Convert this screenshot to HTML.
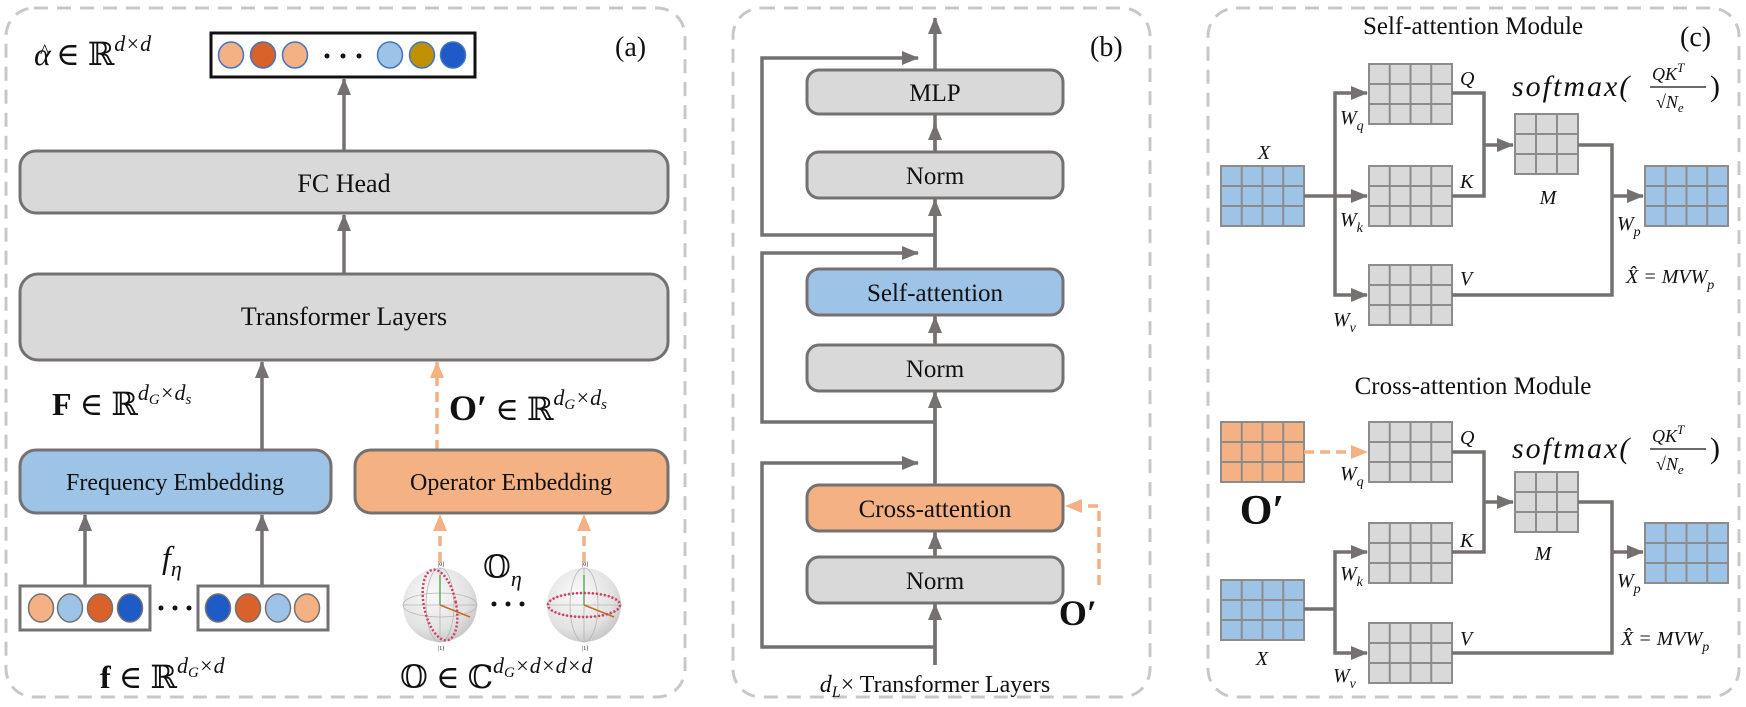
<!DOCTYPE html>
<html><head><meta charset="utf-8"><style>
html,body{margin:0;padding:0;background:#fff}
svg{display:block}
text{font-family:"Liberation Serif","DejaVu Serif",serif;fill:#111}
.it{font-style:italic}
.bx{fill:#d9d9d9;stroke:#767171;stroke-width:3}
.ln{stroke:#767171;stroke-width:3.5;fill:none}
.dash{stroke:#c8c8c8;stroke-width:3;fill:none;stroke-dasharray:14 9}
.od{stroke:#f4b183;stroke-width:3.5;fill:none;stroke-dasharray:10 6}
</style></head><body>
<svg width="1746" height="707" viewBox="0 0 1746 707" xmlns="http://www.w3.org/2000/svg">
<defs>
<marker id="ah" markerUnits="userSpaceOnUse" markerWidth="18" markerHeight="16" refX="16" refY="8" orient="auto"><path d="M0,1 L17,8 L0,15 z" fill="#767171"/></marker>
<marker id="ao" markerUnits="userSpaceOnUse" markerWidth="18" markerHeight="16" refX="16" refY="8" orient="auto"><path d="M0,1 L17,8 L0,15 z" fill="#f4b183"/></marker>
<g id="g4"><rect x="0" y="0" width="83" height="60" stroke="#8c8c8c" stroke-width="2"/><path d="M20.75 0V60M41.5 0V60M62.25 0V60M0 20H83M0 40H83" stroke="#8c8c8c" stroke-width="2"/></g>
<g id="g3"><rect x="0" y="0" width="63" height="60" stroke="#8c8c8c" stroke-width="2"/><path d="M21 0V60M42 0V60M0 20H63M0 40H63" stroke="#8c8c8c" stroke-width="2"/></g>
<radialGradient id="sph" cx="0.4" cy="0.35" r="0.7"><stop offset="0" stop-color="#fafafa"/><stop offset="0.7" stop-color="#e2e2e2"/><stop offset="1" stop-color="#c4c4c4"/></radialGradient>
<g id="sphere"><ellipse cx="0" cy="0" rx="37" ry="37" fill="url(#sph)"/>
<path d="M-37 0H37M0 -37V37M-37 0A37 12 0 0 0 37 0M-37 0A37 12 0 0 1 37 0M0 -37A14 37 0 0 0 0 37M0 -37A14 37 0 0 1 0 37" stroke="#b5b5b5" stroke-width="0.8" fill="none"/>
<line x1="0" y1="0" x2="0" y2="-30" stroke="#3a9a3a" stroke-width="1.2"/>
<line x1="0" y1="0" x2="30" y2="12" stroke="#c07020" stroke-width="1.5"/>
<text x="-2" y="-39" font-size="6" fill="#666">|0⟩</text><text x="-2" y="45" font-size="6" fill="#666">|1⟩</text></g>
</defs>

<!-- Panel (a) -->
<rect class="dash" x="6" y="8" width="679" height="689" rx="28"/>
<text x="615" y="56" font-size="28">(a)</text>
<text x="34" y="65" font-size="32" class="it">α</text>
<text x="40" y="58" font-size="20">^</text>
<text x="56" y="65" font-size="32"> ∈ ℝ<tspan class="it" font-size="22" dy="-14">d×d</tspan></text>
<rect x="211" y="33" width="264" height="44" fill="#fff" stroke="#111" stroke-width="3"/>
<g stroke="#4472c4" stroke-width="1.5">
<ellipse cx="231" cy="55" rx="12.5" ry="13" fill="#f4b183"/>
<ellipse cx="263" cy="55" rx="12.5" ry="13" fill="#d9622b"/>
<ellipse cx="295" cy="55" rx="12.5" ry="13" fill="#f4b183"/>
<ellipse cx="390" cy="55" rx="12.5" ry="13" fill="#9dc3e6"/>
<ellipse cx="422" cy="55" rx="12.5" ry="13" fill="#bf9000"/>
<ellipse cx="453" cy="55" rx="12.5" ry="13" fill="#1f5bc6"/>
</g>
<g fill="#111"><circle cx="327" cy="56" r="2.5"/><circle cx="343" cy="56" r="2.5"/><circle cx="359" cy="56" r="2.5"/></g>
<line class="ln" x1="344" y1="151" x2="344" y2="79" marker-end="url(#ah)"/>
<rect class="bx" x="20" y="151" width="648" height="62" rx="16"/>
<text x="344" y="192" font-size="26" text-anchor="middle">FC Head</text>
<line class="ln" x1="344" y1="274" x2="344" y2="215" marker-end="url(#ah)"/>
<rect class="bx" x="20" y="274" width="648" height="86" rx="18"/>
<text x="344" y="325" font-size="26" text-anchor="middle">Transformer Layers</text>
<line class="ln" x1="262" y1="450" x2="262" y2="362" marker-end="url(#ah)"/>
<line class="od" x1="437" y1="450" x2="437" y2="362" marker-end="url(#ao)"/>
<text x="52" y="415" font-size="32" font-weight="bold">F<tspan font-weight="normal"> ∈ ℝ</tspan><tspan font-weight="normal" class="it" font-size="22" dy="-15">d<tspan font-size="15" dy="4">G</tspan><tspan dy="-4">×d</tspan><tspan font-size="15" dy="4">s</tspan></tspan></text>
<text x="449" y="420" font-size="36" font-weight="bold">O′<tspan font-weight="normal" font-size="32"> ∈ ℝ</tspan><tspan font-weight="normal" class="it" font-size="22" dy="-15">d<tspan font-size="15" dy="4">G</tspan><tspan dy="-4">×d</tspan><tspan font-size="15" dy="4">s</tspan></tspan></text>
<rect x="20" y="450" width="311" height="63" rx="16" fill="#9dc3e6" stroke="#767171" stroke-width="3"/>
<text x="175" y="490" font-size="24" text-anchor="middle">Frequency Embedding</text>
<rect x="355" y="450" width="313" height="63" rx="16" fill="#f4b183" stroke="#767171" stroke-width="3"/>
<text x="511" y="490" font-size="24" text-anchor="middle">Operator Embedding</text>
<line class="ln" x1="85" y1="586" x2="85" y2="515" marker-end="url(#ah)"/>
<line class="ln" x1="262" y1="586" x2="262" y2="515" marker-end="url(#ah)"/>
<text x="162" y="568" font-size="32" class="it">f<tspan font-size="22" dy="8">η</tspan></text>
<rect x="20" y="586" width="130" height="44" fill="#fff" stroke="#767171" stroke-width="3"/>
<rect x="198" y="586" width="130" height="44" fill="#fff" stroke="#767171" stroke-width="3"/>
<g stroke="#767171" stroke-width="1.5">
<ellipse cx="41" cy="608" rx="12.5" ry="14" fill="#f4b183"/><ellipse cx="70" cy="608" rx="12.5" ry="14" fill="#9dc3e6"/><ellipse cx="100" cy="608" rx="12.5" ry="14" fill="#d9622b"/><ellipse cx="130" cy="608" rx="12.5" ry="14" fill="#1f5bc6"/>
<ellipse cx="218" cy="608" rx="12.5" ry="14" fill="#1f5bc6"/><ellipse cx="248" cy="608" rx="12.5" ry="14" fill="#d9622b"/><ellipse cx="278" cy="608" rx="12.5" ry="14" fill="#9dc3e6"/><ellipse cx="307" cy="608" rx="12.5" ry="14" fill="#f4b183"/>
</g>
<g fill="#111"><circle cx="161" cy="608" r="2.5"/><circle cx="175" cy="608" r="2.5"/><circle cx="189" cy="608" r="2.5"/></g>
<line class="od" x1="440" y1="562" x2="440" y2="515" marker-end="url(#ao)"/>
<line class="od" x1="584" y1="562" x2="584" y2="515" marker-end="url(#ao)"/>
<use href="#sphere" x="440" y="605"/>
<ellipse cx="440" cy="605" rx="16" ry="36" fill="none" stroke="#d04060" stroke-width="2.5" stroke-dasharray="2 2" transform="rotate(-12 440 605)"/>
<use href="#sphere" x="584" y="605"/>
<ellipse cx="584" cy="605" rx="36" ry="12" fill="none" stroke="#d04060" stroke-width="2.5" stroke-dasharray="2 2"/>
<text x="483" y="578" font-size="32">𝕆<tspan class="it" font-size="22" dy="8">η</tspan></text>
<g fill="#111"><circle cx="494" cy="604" r="2.5"/><circle cx="508" cy="604" r="2.5"/><circle cx="522" cy="604" r="2.5"/></g>
<text x="100" y="688" font-size="32" font-weight="bold">f<tspan font-weight="normal"> ∈ ℝ</tspan><tspan class="it" font-weight="normal" font-size="22" dy="-15">d<tspan font-size="15" dy="4">G</tspan><tspan dy="-4">×d</tspan></tspan></text>
<text x="400" y="688" font-size="32">𝕆 ∈ ℂ<tspan class="it" font-size="22" dy="-15">d<tspan font-size="15" dy="4">G</tspan><tspan dy="-4">×d×d×d</tspan></tspan></text>

<!-- Panel (b) -->
<rect class="dash" x="733" y="8" width="417" height="689" rx="28"/>
<text x="1090" y="56" font-size="28">(b)</text>
<line class="ln" x1="935" y1="665" x2="935" y2="18" marker-end="url(#ah)"/>
<path class="ln" d="M935 235H762V58H918" marker-end="url(#ah)"/>
<path class="ln" d="M935 422H762V253H918" marker-end="url(#ah)"/>
<path class="ln" d="M935 647H762V463H918" marker-end="url(#ah)"/>
<line class="ln" x1="935" y1="150" x2="935" y2="124" marker-end="url(#ah)"/>
<line class="ln" x1="935" y1="267" x2="935" y2="200" marker-end="url(#ah)"/>
<line class="ln" x1="935" y1="343" x2="935" y2="317" marker-end="url(#ah)"/>
<line class="ln" x1="935" y1="483" x2="935" y2="392" marker-end="url(#ah)"/>
<line class="ln" x1="935" y1="555" x2="935" y2="533" marker-end="url(#ah)"/>
<line class="ln" x1="935" y1="665" x2="935" y2="604" marker-end="url(#ah)"/>
<rect class="bx" x="807" y="70" width="256" height="44" rx="12"/>
<text x="935" y="101" font-size="25" text-anchor="middle">MLP</text>
<rect class="bx" x="807" y="152" width="256" height="46" rx="12"/>
<text x="935" y="184" font-size="25" text-anchor="middle">Norm</text>
<rect x="807" y="269" width="256" height="46" rx="12" fill="#9dc3e6" stroke="#767171" stroke-width="3"/>
<text x="935" y="301" font-size="25" text-anchor="middle">Self-attention</text>
<rect class="bx" x="807" y="345" width="256" height="46" rx="12"/>
<text x="935" y="377" font-size="25" text-anchor="middle">Norm</text>
<rect x="807" y="485" width="256" height="46" rx="12" fill="#f4b183" stroke="#767171" stroke-width="3"/>
<text x="935" y="517" font-size="25" text-anchor="middle">Cross-attention</text>
<rect class="bx" x="807" y="557" width="256" height="46" rx="12"/>
<text x="935" y="589" font-size="25" text-anchor="middle">Norm</text>
<path class="od" d="M1099 585V506H1066" marker-end="url(#ao)"/>
<text x="1078" y="625" font-size="36" font-weight="bold" text-anchor="middle">O′</text>
<text x="935" y="692" font-size="24" text-anchor="middle"><tspan class="it">d<tspan font-size="16" dy="5">L</tspan></tspan><tspan dy="-5">×  Transformer Layers</tspan></text>

<!-- Panel (c) -->
<rect class="dash" x="1208" y="8" width="531" height="689" rx="28"/>
<text x="1473" y="34" font-size="25" text-anchor="middle">Self-attention Module</text>
<text x="1680" y="46" font-size="28">(c)</text>
<use href="#g4" x="1221" y="166" fill="#9dc3e6"/>
<use href="#g4" x="1369" y="64" fill="#d9d9d9"/>
<use href="#g4" x="1369" y="166" fill="#d9d9d9"/>
<use href="#g4" x="1369" y="265" fill="#d9d9d9"/>
<use href="#g3" x="1515" y="114" fill="#d9d9d9"/>
<use href="#g4" x="1645" y="166" fill="#9dc3e6"/>
<path class="ln" d="M1304 196H1335"/>
<path class="ln" d="M1335 196V93H1367" marker-end="url(#ah)"/>
<path class="ln" d="M1335 196H1367" marker-end="url(#ah)"/>
<path class="ln" d="M1335 196V295H1367" marker-end="url(#ah)"/>
<path class="ln" d="M1452 93H1484V196H1452"/>
<path class="ln" d="M1484 145H1513" marker-end="url(#ah)"/>
<path class="ln" d="M1578 145H1612V295H1452"/>
<path class="ln" d="M1612 196H1643" marker-end="url(#ah)"/>
<g class="it" font-size="20">
<text x="1264" y="159" text-anchor="middle">X</text>
<text x="1460" y="85">Q</text><text x="1460" y="188">K</text><text x="1460" y="285">V</text>
<text x="1340" y="124">W<tspan font-size="14" dy="6">q</tspan></text>
<text x="1340" y="226">W<tspan font-size="14" dy="6">k</tspan></text>
<text x="1333" y="326">W<tspan font-size="14" dy="6">v</tspan></text>
<text x="1548" y="204" text-anchor="middle">M</text>
<text x="1617" y="230">W<tspan font-size="14" dy="6">p</tspan></text>
<text x="1626" y="283">X̂ = MVW<tspan font-size="14" dy="6">p</tspan></text>
</g>
<text x="1512" y="96" font-size="30" class="it" letter-spacing="2">softmax(</text>
<text x="1652" y="80" font-size="18" class="it">QK<tspan font-size="13" dy="-8">T</tspan></text>
<line x1="1650" y1="87" x2="1706" y2="87" stroke="#111" stroke-width="1.3"/>
<text x="1656" y="108" font-size="18" class="it">√N<tspan font-size="13" dy="4">e</tspan></text>
<text x="1710" y="96" font-size="30">)</text>

<text x="1473" y="394" font-size="25" text-anchor="middle">Cross-attention Module</text>
<use href="#g4" x="1221" y="422" fill="#f4b183"/>
<text x="1262" y="524" font-size="42" font-weight="bold" text-anchor="middle">O′</text>
<use href="#g4" x="1369" y="422" fill="#d9d9d9"/>
<use href="#g4" x="1369" y="523" fill="#d9d9d9"/>
<use href="#g4" x="1369" y="623" fill="#d9d9d9"/>
<use href="#g3" x="1515" y="472" fill="#d9d9d9"/>
<use href="#g4" x="1645" y="523" fill="#9dc3e6"/>
<use href="#g4" x="1221" y="580" fill="#9dc3e6"/>
<line class="od" x1="1304" y1="452" x2="1367" y2="452" marker-end="url(#ao)"/>
<path class="ln" d="M1304 609H1335"/>
<path class="ln" d="M1335 609V552H1367" marker-end="url(#ah)"/>
<path class="ln" d="M1335 609V653H1367" marker-end="url(#ah)"/>
<path class="ln" d="M1452 452H1484V552H1452"/>
<path class="ln" d="M1484 502H1513" marker-end="url(#ah)"/>
<path class="ln" d="M1578 502H1612V653H1452"/>
<path class="ln" d="M1612 552H1643" marker-end="url(#ah)"/>
<g class="it" font-size="20">
<text x="1262" y="665" text-anchor="middle">X</text>
<text x="1460" y="444">Q</text><text x="1460" y="547">K</text><text x="1460" y="645">V</text>
<text x="1340" y="480">W<tspan font-size="14" dy="6">q</tspan></text>
<text x="1340" y="580">W<tspan font-size="14" dy="6">k</tspan></text>
<text x="1333" y="682">W<tspan font-size="14" dy="6">v</tspan></text>
<text x="1543" y="560" text-anchor="middle">M</text>
<text x="1617" y="587">W<tspan font-size="14" dy="6">p</tspan></text>
<text x="1621" y="645">X̂ = MVW<tspan font-size="14" dy="6">p</tspan></text>
</g>
<text x="1512" y="458" font-size="30" class="it" letter-spacing="2">softmax(</text>
<text x="1652" y="442" font-size="18" class="it">QK<tspan font-size="13" dy="-8">T</tspan></text>
<line x1="1650" y1="449" x2="1706" y2="449" stroke="#111" stroke-width="1.3"/>
<text x="1656" y="470" font-size="18" class="it">√N<tspan font-size="13" dy="4">e</tspan></text>
<text x="1710" y="458" font-size="30">)</text>
</svg>
</body></html>
